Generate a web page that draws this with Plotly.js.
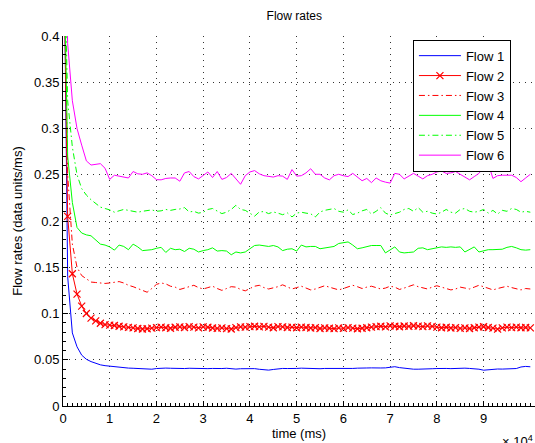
<!DOCTYPE html>
<html>
<head>
<meta charset="utf-8">
<script src="https://cdn.plot.ly/plotly-3.0.1.min.js"></script>
<style>
html,body{margin:0;padding:0;background:#fff;overflow:hidden;}
#chart{width:535px;height:443px;}
</style>
</head>
<body>
<div id="chart"></div>
<script>
// time samples (ms)
const timeMs = [0,1000,2000,3000,4000,5000,6000,7000,8000,9000,
10000,11000,12000,13000,14000,15000,16000,17000,18000,19000,
20000,21000,22000,23000,24000,25000,26000,27000,28000,29000,
30000,31000,32000,33000,34000,35000,36000,37000,38000,39000,
40000,41000,42000,43000,44000,45000,46000,47000,48000,49000,
50000,51000,52000,53000,54000,55000,56000,57000,58000,59000,
60000,61000,62000,63000,64000,65000,66000,67000,68000,69000,
70000,71000,72000,73000,74000,75000,76000,77000,78000,79000,
80000,81000,82000,83000,84000,85000,86000,87000,88000,89000,
90000,91000,92000,93000,94000,95000,96000,97000,98000,99000,100000];

const flow1 = [0.60,0.14,0.079,0.064,0.055,0.0505,0.048,0.046,0.0445,0.0436,
0.043,0.0424,0.042,0.0415,0.041,0.0408,0.0405,0.0408,0.0404,0.0398,
0.0405,0.041,0.041,0.0408,0.0405,0.0403,0.0405,0.0408,0.0406,0.0409,
0.0408,0.0404,0.0406,0.0402,0.0405,0.0408,0.0403,0.0399,0.0403,0.0406,
0.0405,0.0404,0.0397,0.0392,0.0388,0.0395,0.0403,0.0406,0.0405,0.0403,
0.0406,0.0409,0.0407,0.0404,0.040,0.0403,0.0406,0.0405,0.0403,0.0406,
0.0408,0.0404,0.0406,0.0409,0.0407,0.0411,0.0412,0.0409,0.0411,0.0412,
0.0418,0.0425,0.0415,0.0408,0.0402,0.0398,0.0398,0.0402,0.0404,0.0403,
0.0405,0.0408,0.0406,0.0404,0.0407,0.041,0.0409,0.0406,0.0403,0.0398,
0.0387,0.0392,0.0398,0.040,0.0399,0.0401,0.0402,0.0405,0.0422,0.0428,0.0424];

const flow2 = [0.55,0.205,0.143,0.121,0.108,0.100,0.095,0.092,0.0895,0.088,
0.0875,0.087,0.0862,0.0855,0.085,0.0845,0.0838,0.0832,0.0835,0.0842,
0.0848,0.0852,0.0846,0.0841,0.0851,0.0855,0.0849,0.0858,0.0853,0.0844,
0.0856,0.0851,0.0843,0.0839,0.0845,0.0837,0.0832,0.0848,0.0855,0.0852,
0.0858,0.0862,0.0855,0.0861,0.0852,0.0846,0.0858,0.0855,0.0849,0.0852,
0.0846,0.0853,0.0849,0.0843,0.0848,0.0838,0.0845,0.0841,0.0836,0.0844,
0.0839,0.0847,0.0842,0.0835,0.0841,0.0846,0.0852,0.0858,0.0862,0.0856,
0.0866,0.0862,0.0857,0.0865,0.086,0.0868,0.0863,0.0858,0.0866,0.0861,
0.0852,0.0846,0.0851,0.0843,0.0848,0.084,0.0845,0.0838,0.0846,0.0852,
0.0857,0.0849,0.0842,0.0831,0.0845,0.0852,0.0847,0.0853,0.0846,0.0849,0.0844];

const flow3 = [0.55,0.25,0.175,0.15,0.141,0.137,0.134,0.1335,0.133,0.1325,
0.133,0.134,0.1345,0.133,0.1305,0.129,0.127,0.1245,0.123,0.127,
0.1315,0.133,0.132,0.1295,0.1285,0.126,0.1275,0.129,0.1305,0.128,
0.1265,0.128,0.1295,0.127,0.125,0.127,0.129,0.1285,0.126,0.1245,
0.127,0.1295,0.1305,0.128,0.1265,0.1275,0.129,0.131,0.1285,0.1265,
0.128,0.1295,0.1275,0.1255,0.1265,0.1285,0.130,0.1285,0.127,0.1255,
0.127,0.1285,0.1305,0.129,0.127,0.1285,0.1295,0.128,0.1265,0.1275,
0.1295,0.1285,0.126,0.1275,0.1295,0.131,0.129,0.1275,0.1265,0.1285,
0.130,0.1285,0.127,0.1255,0.1265,0.1285,0.1275,0.1265,0.1285,0.1305,
0.129,0.127,0.1255,0.127,0.1285,0.1295,0.128,0.1265,0.1255,0.127,0.1265];

const flow4 = [0.55,0.27,0.22,0.193,0.187,0.185,0.184,0.179,0.175,0.174,
0.172,0.1685,0.174,0.1725,0.169,0.175,0.172,0.168,0.1685,0.169,
0.1705,0.1715,0.166,0.1705,0.169,0.1695,0.167,0.1705,0.1695,0.1665,
0.168,0.169,0.171,0.1675,0.168,0.1675,0.1635,0.1665,0.1655,0.1665,
0.170,0.1735,0.174,0.1735,0.1725,0.1735,0.172,0.168,0.1695,0.170,
0.1675,0.174,0.172,0.1725,0.1725,0.170,0.171,0.172,0.1725,0.1757,
0.1765,0.1774,0.174,0.170,0.171,0.172,0.1735,0.1735,0.1735,0.1655,
0.169,0.172,0.1665,0.1655,0.166,0.1665,0.1705,0.171,0.169,0.170,
0.171,0.172,0.1715,0.172,0.1715,0.172,0.1665,0.169,0.172,0.1665,
0.168,0.169,0.169,0.169,0.1695,0.1715,0.1725,0.171,0.169,0.1685,0.169];

const flow5 = [0.55,0.33,0.28,0.25,0.235,0.228,0.223,0.219,0.215,0.2135,
0.212,0.2095,0.211,0.2125,0.2115,0.2105,0.2095,0.2105,0.2115,0.212,
0.2105,0.211,0.2125,0.2115,0.2125,0.213,0.2145,0.2098,0.2105,0.2085,
0.2095,0.2125,0.2135,0.2105,0.208,0.2095,0.2125,0.217,0.2125,0.2115,
0.208,0.2052,0.2098,0.2102,0.208,0.2098,0.2085,0.2068,0.2088,0.2044,
0.2085,0.2095,0.2085,0.2078,0.2044,0.2098,0.2115,0.2125,0.2135,0.2105,
0.2095,0.212,0.207,0.2085,0.211,0.2125,0.2075,0.2105,0.2145,0.2085,
0.2065,0.208,0.2095,0.2125,0.2135,0.2105,0.2145,0.2095,0.2105,0.2085,
0.2075,0.2095,0.2125,0.2095,0.2085,0.2125,0.2135,0.2105,0.2095,0.2105,
0.2125,0.2085,0.2115,0.2075,0.2115,0.2105,0.2135,0.2125,0.2095,0.2105,0.2095];

const flow6 = [0.62,0.392,0.33,0.30,0.282,0.265,0.2605,0.261,0.262,0.257,
0.245,0.2495,0.2485,0.247,0.2465,0.2535,0.251,0.2505,0.252,0.249,
0.2447,0.2445,0.246,0.2465,0.2465,0.243,0.252,0.2535,0.248,0.2455,
0.2495,0.253,0.247,0.2535,0.245,0.247,0.2515,0.246,0.2397,0.249,
0.253,0.2545,0.251,0.249,0.2484,0.2475,0.249,0.2485,0.245,0.2556,
0.2485,0.249,0.252,0.2565,0.2505,0.2505,0.2465,0.2445,0.249,0.2505,
0.249,0.248,0.2515,0.247,0.2435,0.246,0.2415,0.2465,0.2435,0.242,
0.241,0.2515,0.2505,0.2455,0.2485,0.2515,0.2485,0.2455,0.249,0.2505,
0.253,0.254,0.2515,0.252,0.2535,0.2505,0.2475,0.2445,0.248,0.2515,
0.2577,0.262,0.246,0.249,0.2495,0.2495,0.2495,0.247,0.2425,0.2465,0.2505];

const seriesNames = ['Flow 1','Flow 2','Flow 3','Flow 4','Flow 5','Flow 6'];
const xTickVals = [0,10000,20000,30000,40000,50000,60000,70000,80000,90000];
const xTickText = ['0','1','2','3','4','5','6','7','8','9'];
const yTickVals = [0,0.05,0.1,0.15,0.2,0.25,0.3,0.35,0.4];
const yTickText = ['0','0.05','0.1','0.15','0.2','0.25','0.3','0.35','0.4'];

const dashDot = '6px,3px,1.5px,3px';
const traces = [
  {x: timeMs, y: flow1, name: seriesNames[0], mode: 'lines', line: {color: '#0000ff', width: 1}},
  {x: timeMs, y: flow2, name: seriesNames[1], mode: 'lines+markers', line: {color: '#ff0000', width: 1},
   marker: {symbol: 'x-thin-open', size: 7, color: '#ff0000', line: {color: '#ff0000', width: 1.2}}},
  {x: timeMs, y: flow3, name: seriesNames[2], mode: 'lines', line: {color: '#ff0000', width: 1, dash: dashDot}},
  {x: timeMs, y: flow4, name: seriesNames[3], mode: 'lines', line: {color: '#00ff00', width: 1}},
  {x: timeMs, y: flow5, name: seriesNames[4], mode: 'lines', line: {color: '#00ff00', width: 1, dash: dashDot}},
  {x: timeMs, y: flow6, name: seriesNames[5], mode: 'lines', line: {color: '#ff00ff', width: 1}}
];

const font = 'Liberation Sans, Arial, Helvetica, sans-serif';
const layout = {
  width: 535, height: 443,
  margin: {l: 63, r: 0, t: 36, b: 37, pad: 0},
  paper_bgcolor: '#fff', plot_bgcolor: '#fff',
  font: {family: font, size: 13, color: '#000'},
  title: {text: 'Flow rates', font: {family: font, size: 12, color: '#000'}, x: 0.49, xref: 'paper', y: 1, yref: 'container', yanchor: 'top', pad: {t: 12}},
  showlegend: true,
  legend: {x: 0.949, xanchor: 'right', y: 0.99, yanchor: 'top', bgcolor: '#fff', bordercolor: '#000', borderwidth: 1,
           font: {family: font, size: 13, color: '#000'}, tracegroupgap: 0, itemwidth: 42},
  xaxis: {
    range: [0, 101000], autorange: false,
    tickmode: 'array', tickvals: xTickVals, ticktext: xTickText,
    ticks: 'inside', ticklen: 5, tickcolor: '#000', tickwidth: 1,
    minor: {dtick: 1000, ticks: 'inside', ticklen: 3, tickcolor: '#000', tickwidth: 1, showgrid: false},
    showline: true, linecolor: '#000', linewidth: 1, mirror: false,
    showgrid: true, gridcolor: '#333', gridwidth: 1, griddash: '1px,5px',
    zeroline: false, tickfont: {size: 13, color: '#000'},
    title: {text: 'time (ms)', font: {size: 13, color: '#000'}, standoff: 4},
    automargin: false
  },
  yaxis: {
    range: [0, 0.4], autorange: false,
    tickmode: 'array', tickvals: yTickVals, ticktext: yTickText,
    ticks: 'inside', ticklen: 5, tickcolor: '#000', tickwidth: 1,
    minor: {dtick: 0.01, ticks: 'inside', ticklen: 3, tickcolor: '#000', tickwidth: 1, showgrid: false},
    showline: true, linecolor: '#000', linewidth: 1, mirror: false,
    showgrid: true, gridcolor: '#333', gridwidth: 1, griddash: '1px,5px',
    zeroline: false, tickfont: {size: 13, color: '#000'},
    title: {text: 'Flow rates (data units/ms)', font: {size: 13, color: '#000'}, standoff: 8},
    automargin: false
  },
  annotations: [{
    text: '× 10<sup>4</sup>', xref: 'paper', yref: 'paper', x: 0.925, y: -0.095,
    xanchor: 'left', yanchor: 'middle', showarrow: false, font: {family: font, size: 13, color: '#000'}
  }]
};

Plotly.newPlot('chart', traces, layout, {displayModeBar: false, staticPlot: true});
</script>
</body>
</html>
